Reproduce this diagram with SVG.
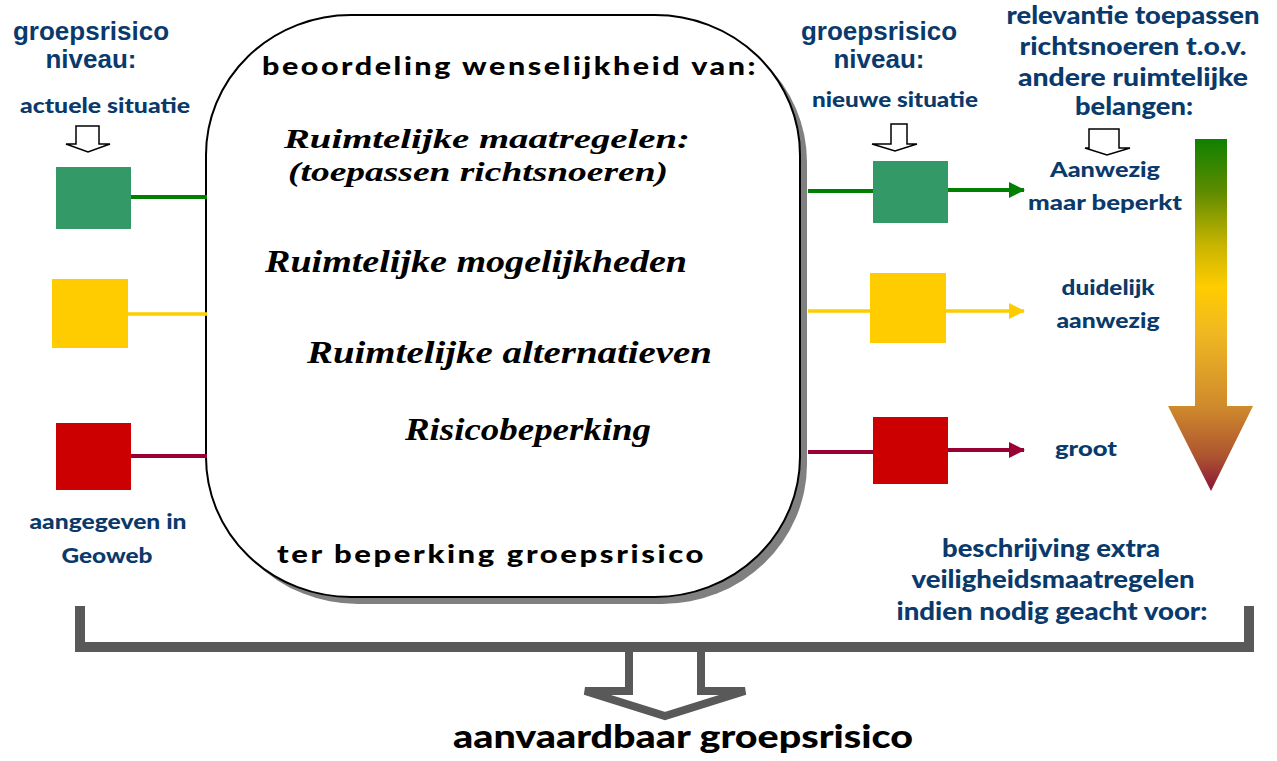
<svg xmlns="http://www.w3.org/2000/svg" width="1277" height="761" viewBox="0 0 1277 761">
<defs>
<style>
.hd{font-family:"Liberation Sans",Arial,sans-serif;font-weight:bold;font-size:26px;fill:#0a3a6b;text-anchor:middle}
.lb{font-family:Lato,"Open Sans",sans-serif;font-weight:900;font-size:20px;fill:#0a3a6b;text-anchor:middle}
.rh{font-family:Lato,"Open Sans",sans-serif;font-weight:900;font-size:24px;fill:#0a3a6b;text-anchor:middle}
.bx{font-family:Lato,"Open Sans",sans-serif;font-weight:900;font-size:24px;fill:#000;letter-spacing:2px}
.sc{font-family:"Liberation Serif","DejaVu Serif",serif;font-style:italic;font-weight:bold;font-size:31px;fill:#000}
.sc2{font-family:"Liberation Serif","DejaVu Serif",serif;font-style:italic;font-weight:bold;font-size:27px;fill:#000}
.ha{fill:#fff;stroke:#000;stroke-width:1.5;stroke-linejoin:miter}
.g{stroke:#008000;stroke-width:4;fill:none}
.y{stroke:#ffcc00;stroke-width:3.5;fill:none}
.r{stroke:#990033;stroke-width:4;fill:none}
</style>
<marker id="mg" markerUnits="userSpaceOnUse" markerWidth="16" markerHeight="18" refX="15" refY="8" orient="auto"><path d="M0,0 L16,8 L0,16 Z" fill="#008000"/></marker>
<marker id="my" markerUnits="userSpaceOnUse" markerWidth="16" markerHeight="18" refX="15" refY="8" orient="auto"><path d="M0,0 L16,8 L0,16 Z" fill="#ffcc00"/></marker>
<marker id="mr" markerUnits="userSpaceOnUse" markerWidth="16" markerHeight="18" refX="15" refY="8" orient="auto"><path d="M0,0 L16,8 L0,16 Z" fill="#990033"/></marker>
<linearGradient id="grad" gradientUnits="userSpaceOnUse" x1="0" y1="139" x2="0" y2="491">
<stop offset="0" stop-color="#0f8000"/>
<stop offset="0.15" stop-color="#5e8c00"/>
<stop offset="0.3" stop-color="#c8b400"/>
<stop offset="0.42" stop-color="#ffcc00"/>
<stop offset="0.55" stop-color="#f0b822"/>
<stop offset="0.76" stop-color="#cf8a2c"/>
<stop offset="0.9" stop-color="#ad5530"/>
<stop offset="1" stop-color="#8a1538"/>
</linearGradient>
</defs>
<rect width="1277" height="761" fill="#fff"/>

<g id="central-box">
<rect x="213" y="22" width="594" height="582" rx="145" ry="140" fill="#808080"/>
<rect x="206" y="15" width="594" height="582" rx="145" ry="140" fill="#fff" stroke="#000" stroke-width="2"/>
<text class="bx" x="262" y="75" textLength="496" lengthAdjust="spacingAndGlyphs">beoordeling wenselijkheid van:</text>
<text class="sc2" x="284" y="148" textLength="406" lengthAdjust="spacingAndGlyphs">Ruimtelijke maatregelen:</text>
<text class="sc2" x="288" y="181" textLength="380" lengthAdjust="spacingAndGlyphs">(toepassen richtsnoeren)</text>
<text class="sc" x="265" y="272" textLength="422" lengthAdjust="spacingAndGlyphs">Ruimtelijke mogelijkheden</text>
<text class="sc" x="307" y="363" textLength="405" lengthAdjust="spacingAndGlyphs">Ruimtelijke alternatieven</text>
<text class="sc" x="405" y="440" textLength="246" lengthAdjust="spacingAndGlyphs">Risicobeperking</text>
<text class="bx" x="277" y="563" textLength="429" lengthAdjust="spacingAndGlyphs">ter beperking groepsrisico</text>
</g>

<g id="connectors">
<line class="g" x1="131" y1="197" x2="207" y2="197"/>
<line class="y" x1="128" y1="314" x2="207" y2="314"/>
<line class="r" x1="131" y1="456" x2="207" y2="456"/>
<line class="g" x1="808" y1="191" x2="873" y2="191"/>
<line class="y" x1="808" y1="311" x2="870" y2="311"/>
<line class="r" x1="808" y1="452" x2="873" y2="452"/>
<line class="g" x1="948" y1="190" x2="1024" y2="190" marker-end="url(#mg)"/>
<line class="y" x1="946" y1="311" x2="1024" y2="311" marker-end="url(#my)"/>
<line class="r" x1="948" y1="450" x2="1024" y2="450" marker-end="url(#mr)"/>
</g>

<g id="left-header">
<text class="hd" x="91" y="40">groepsrisico</text>
<text class="hd" x="91" y="68">niveau:</text>
<text class="lb" x="105" y="113" textLength="170" lengthAdjust="spacingAndGlyphs">actuele situatie</text>
<path class="ha" d="M76,126 H99 V144 H110 L88,152 L66,144 H76 Z"/>
</g>
<g id="left-green"><rect x="56" y="167" width="75" height="62" fill="#339966"/></g>
<g id="left-yellow"><rect x="52" y="279" width="76" height="69" fill="#ffcc00"/></g>
<g id="left-red">
<rect x="56" y="423" width="75" height="67" fill="#cc0000"/>
<text class="lb" x="108" y="529" textLength="157" lengthAdjust="spacingAndGlyphs">aangegeven in</text>
<text class="lb" x="107" y="563" textLength="91" lengthAdjust="spacingAndGlyphs">Geoweb</text>
</g>

<g id="right-header">
<text class="hd" x="879" y="40">groepsrisico</text>
<text class="hd" x="879" y="68">niveau:</text>
<text class="lb" x="895" y="107" textLength="166" lengthAdjust="spacingAndGlyphs">nieuwe situatie</text>
<path class="ha" d="M891,124 H907 V144 H917 L895,151 L872,144 H891 Z"/>
</g>
<g id="right-green"><rect x="873" y="161" width="75" height="62" fill="#339966"/></g>
<g id="right-yellow"><rect x="870" y="273" width="76" height="70" fill="#ffcc00"/></g>
<g id="right-red"><rect x="873" y="417" width="75" height="67" fill="#cc0000"/></g>

<g id="labels-right">
<text class="lb" x="1105" y="177" textLength="110" lengthAdjust="spacingAndGlyphs">Aanwezig</text>
<text class="lb" x="1105" y="210" textLength="154" lengthAdjust="spacingAndGlyphs">maar beperkt</text>
<text class="lb" x="1108" y="295" textLength="93" lengthAdjust="spacingAndGlyphs">duidelijk</text>
<text class="lb" x="1108" y="328" textLength="103" lengthAdjust="spacingAndGlyphs">aanwezig</text>
<text class="lb" x="1086" y="456" textLength="62" lengthAdjust="spacingAndGlyphs">groot</text>
</g>

<g id="relevance">
<text class="rh" x="1133" y="24" textLength="253" lengthAdjust="spacingAndGlyphs">relevantie toepassen</text>
<text class="rh" x="1133" y="55" textLength="227" lengthAdjust="spacingAndGlyphs">richtsnoeren t.o.v.</text>
<text class="rh" x="1133" y="86" textLength="230" lengthAdjust="spacingAndGlyphs">andere ruimtelijke</text>
<text class="rh" x="1134" y="115" textLength="118" lengthAdjust="spacingAndGlyphs">belangen:</text>
<path class="ha" d="M1089,129 H1119 V148 H1130 L1107,155 L1085,148 H1089 Z"/>
<path d="M1195,139 H1227 V406 H1253 L1211,491 L1168,406 H1195 Z" fill="url(#grad)"/>
</g>

<g id="extra-measures">
<text class="rh" x="1051" y="557" textLength="218" lengthAdjust="spacingAndGlyphs">beschrijving extra</text>
<text class="rh" x="1053" y="588" textLength="283" lengthAdjust="spacingAndGlyphs">veiligheidsmaatregelen</text>
<text class="rh" x="1052" y="620" textLength="311" lengthAdjust="spacingAndGlyphs">indien nodig geacht voor:</text>
</g>

<g id="result">
<path d="M629,650 V691 H585 L665,716 L745,691 H701 V650" fill="#fff" stroke="#595959" stroke-width="8" stroke-linejoin="miter"/>
<path d="M80,606 V647 H1249 V606" fill="none" stroke="#595959" stroke-width="10"/>
<text x="683" y="748" font-family="Lato,'Open Sans',sans-serif" font-weight="900" font-size="33" fill="#000" text-anchor="middle" textLength="460" lengthAdjust="spacingAndGlyphs">aanvaardbaar groepsrisico</text>
</g>
</svg>
